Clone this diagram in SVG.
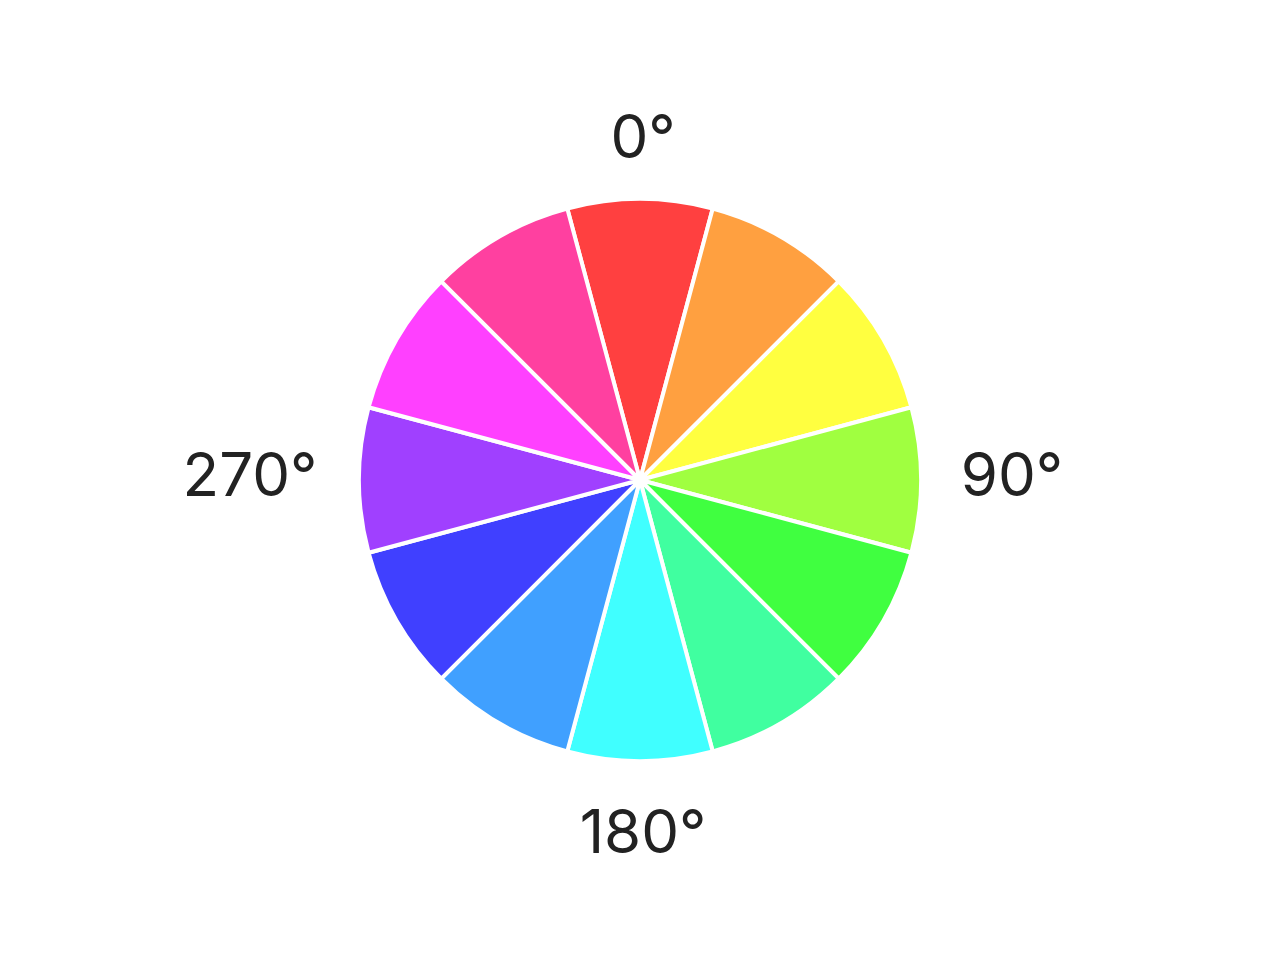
<svg xmlns="http://www.w3.org/2000/svg" width="1280" height="960" viewBox="0 0 1280 960">
<style>
.w{stroke:#fff;stroke-width:4;stroke-linejoin:round}
.l{font-family:Inter,"Liberation Sans",sans-serif;font-size:60px;fill:#222;text-anchor:middle}
</style>
<rect width="1280" height="960" fill="#fff"/>
<g id="wheel">
<path id="h0" class="w" fill="#FF4040" d="M640,480 L567.27,208.58 A281,281 0 0 1 712.73,208.58 Z"/>
<path id="h30" class="w" fill="#FFA040" d="M640,480 L712.73,208.58 A281,281 0 0 1 838.70,281.30 Z"/>
<path id="h60" class="w" fill="#FFFF40" d="M640,480 L838.70,281.30 A281,281 0 0 1 911.42,407.27 Z"/>
<path id="h90" class="w" fill="#A0FF40" d="M640,480 L911.42,407.27 A281,281 0 0 1 911.42,552.73 Z"/>
<path id="h120" class="w" fill="#40FF40" d="M640,480 L911.42,552.73 A281,281 0 0 1 838.70,678.70 Z"/>
<path id="h150" class="w" fill="#40FFA0" d="M640,480 L838.70,678.70 A281,281 0 0 1 712.73,751.42 Z"/>
<path id="h180" class="w" fill="#40FFFF" d="M640,480 L712.73,751.42 A281,281 0 0 1 567.27,751.42 Z"/>
<path id="h210" class="w" fill="#40A0FF" d="M640,480 L567.27,751.42 A281,281 0 0 1 441.30,678.70 Z"/>
<path id="h240" class="w" fill="#4040FF" d="M640,480 L441.30,678.70 A281,281 0 0 1 368.58,552.73 Z"/>
<path id="h270" class="w" fill="#A040FF" d="M640,480 L368.58,552.73 A281,281 0 0 1 368.58,407.27 Z"/>
<path id="h300" class="w" fill="#FF40FF" d="M640,480 L368.58,407.27 A281,281 0 0 1 441.30,281.30 Z"/>
<path id="h330" class="w" fill="#FF40A0" d="M640,480 L441.30,281.30 A281,281 0 0 1 567.27,208.58 Z"/>
</g>
<g id="labels">
<text class="l" x="643" y="158">0°</text>
<text class="l" x="1012" y="496">90°</text>
<text class="l" x="643" y="853">180°</text>
<text class="l" x="250" y="496">270°</text>
</g>
</svg>
